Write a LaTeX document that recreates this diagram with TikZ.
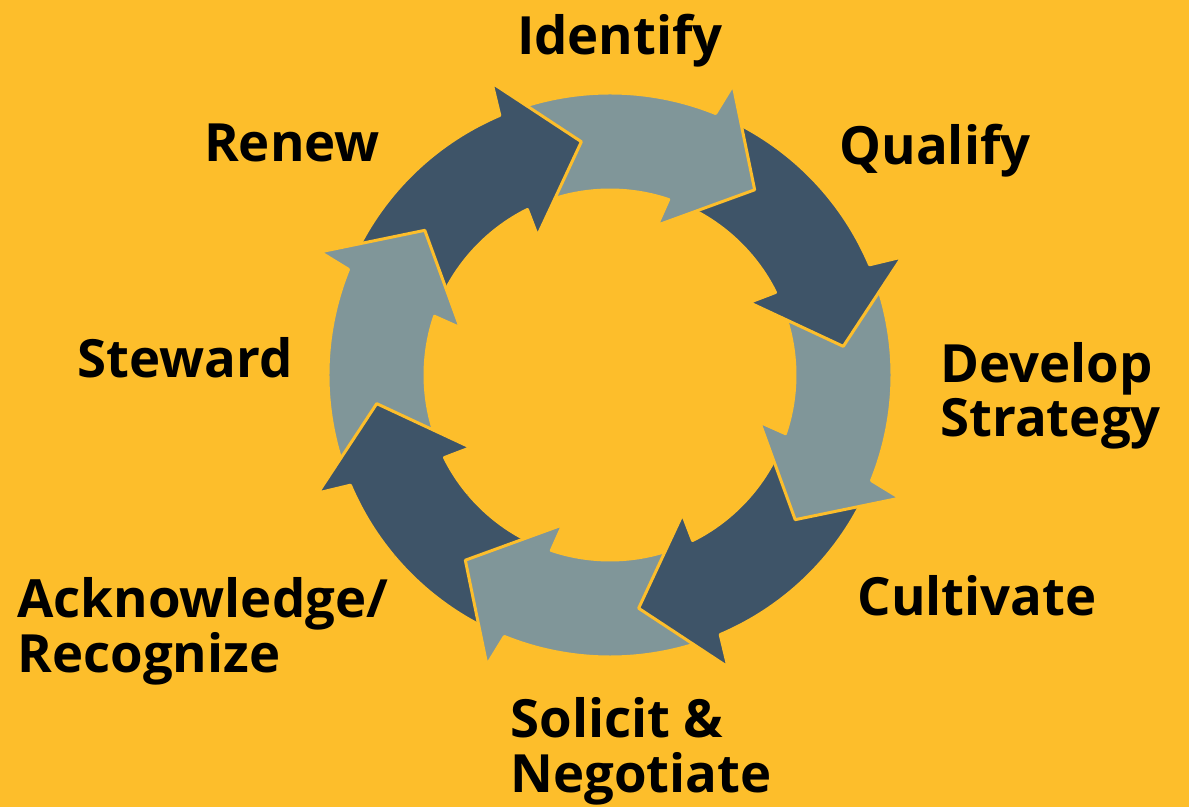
\documentclass[tikz,border=0pt]{standalone}
\usepackage{fontspec}
\setmainfont{Open Sans}
\definecolor{bgcolor}{RGB}{253,190,43}
\definecolor{lightcolor}{RGB}{128,150,153}
\definecolor{darkcolor}{RGB}{62,84,104}

% one piece of the ring: #1 = angle of its tip, #2 = fill
\newcommand{\ringarrow}[2]{%
  \filldraw[seg, fill=#2]
    ({#1+63}:282) arc[start angle={#1+63}, end angle={#1+16}, radius=282]
    -- ({#1+15}:315) -- (#1:235) -- ({#1+20.5}:157) -- ({#1+19.5}:185)
    arc[start angle={#1+19.5}, end angle={#1+63}, radius=185] -- cycle;}

\begin{document}
\begin{tikzpicture}[x=0.02cm, y=0.02cm]
\tikzset{
  seg/.style={draw=bgcolor, line width=1.7pt, line join=round},
  lbl/.style={font=\fontsize{30}{31}\selectfont\bfseries, inner sep=0pt, align=left},
}

\fill[bgcolor] (-610,-432) rectangle (579,375);
\useasboundingbox (-610,-432) rectangle (579,375);

% ring, each head lies over the tail of the next one
\ringarrow{-173}{darkcolor}
\ringarrow{-128}{lightcolor}
\ringarrow{-83}{darkcolor}
\ringarrow{-38}{lightcolor}
\ringarrow{7}{darkcolor}
\ringarrow{52}{lightcolor}
\ringarrow{97}{darkcolor}
\ringarrow{142}{lightcolor}
\begin{scope}
  \clip (0,0) -- (-185:400) arc[start angle=-185, end angle=-140, radius=400] -- cycle;
  \ringarrow{-173}{darkcolor}
\end{scope}

% labels
\node[lbl, anchor=base] (identify) at (10,320) {Identify};
\node[lbl, anchor=base] (renew) at (-318,213) {Renew};
\node[lbl, anchor=base] (qualify) at (325,210) {Qualify};
\node[lbl, anchor=base] (steward) at (-425,-3) {Steward};
\node[lbl, anchor=base] (cultivate) at (367,-240) {Cultivate};
\node[lbl, anchor=base west] (develop) at (330,-62) {Develop\\Strategy};
\node[lbl, anchor=base west] (acknowledge) at (-593,-297) {Acknowledge/\\Recognize};
\node[lbl, anchor=base west] (solicit) at (-100,-417) {Solicit \&\\Negotiate};

\end{tikzpicture}
\end{document}
